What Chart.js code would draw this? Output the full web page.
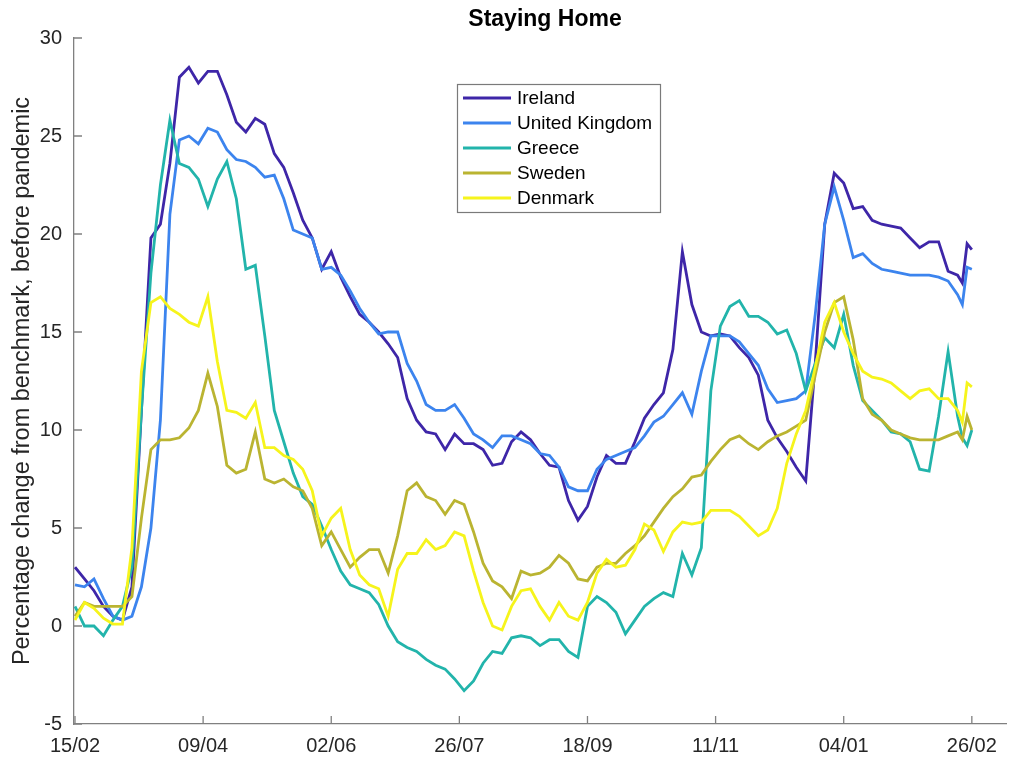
<!DOCTYPE html>
<html><head><meta charset="utf-8">
<script src="https://cdn.jsdelivr.net/npm/chart.js@4.4.1/dist/chart.umd.min.js"></script>
<style>html,body{margin:0;padding:0;background:#fff;}canvas{display:block;}</style>
</head><body>
<canvas id="c" width="1013" height="759"></canvas>
<script>
// Days since 15/02/2020
const days = [0,4,8,12,16,20,24,28,32,36,40,44,48,52,56,60,64,68,72,76,80,84,88,92,96,100,104,108,112,116,120,124,128,132,136,140,144,148,152,156,160,164,168,172,176,180,184,188,192,196,200,204,208,212,216,220,224,228,232,236,240,244,248,252,256,260,264,268,272,276,280,284,288,292,296,300,304,308,312,316,320,324,328,332,336,340,344,348,352,356,360,364,368,372,374,376,378];
const tickDays = [0,54,108,162,216,270,324,378];
const tickLabels = ['15/02','09/04','02/06','26/07','18/09','11/11','04/01','26/02'];
const yTicks = [-5,0,5,10,15,20,25,30];
const countries = ['Ireland','United Kingdom','Greece','Sweden','Denmark'];
const colors = ['#3E26A8','#3C84EE','#22B4AB','#BAB431','#F6F41C'];
const chartTitle = 'Staying Home';
const yTitle = 'Percentage change from benchmark, before pandemic';

const ireland = [3.0,2.4,1.8,1.0,0.5,0.3,2.0,11.0,19.8,20.5,23.6,28.0,28.5,27.7,28.3,28.3,27.1,25.7,25.2,25.9,25.6,24.1,23.4,22.1,20.7,19.8,18.2,19.1,17.8,16.8,15.9,15.5,15.0,14.4,13.7,11.6,10.5,9.9,9.8,9.0,9.8,9.3,9.3,9.0,8.2,8.3,9.4,9.9,9.5,8.8,8.2,8.1,6.4,5.4,6.1,7.6,8.7,8.3,8.3,9.4,10.6,11.3,11.9,14.1,19.1,16.4,15.0,14.8,14.9,14.8,14.2,13.7,12.8,10.5,9.6,8.9,8.1,7.4,13.4,20.5,23.1,22.6,21.3,21.4,20.7,20.5,20.4,20.3,19.8,19.3,19.6,19.6,18.1,17.9,17.5,19.5,19.2];
const uk = [2.1,2.0,2.4,1.4,0.5,0.3,0.5,2.0,5.0,10.5,21.0,24.8,25.0,24.6,25.4,25.2,24.3,23.8,23.7,23.4,22.9,23.0,21.8,20.2,20.0,19.8,18.2,18.3,17.9,17.1,16.2,15.5,14.9,15.0,15.0,13.4,12.5,11.3,11.0,11.0,11.3,10.6,9.8,9.5,9.1,9.7,9.7,9.5,9.3,8.8,8.7,8.1,7.1,6.9,6.9,8.0,8.5,8.7,8.9,9.1,9.7,10.4,10.7,11.3,11.9,10.8,13.0,14.8,14.8,14.8,14.5,13.9,13.3,12.1,11.4,11.5,11.6,12.0,15.9,20.5,22.4,20.7,18.8,19.0,18.5,18.2,18.1,18.0,17.9,17.9,17.9,17.8,17.6,16.9,16.4,18.3,18.2];
const greece = [1.0,0.0,0.0,-0.5,0.3,1.0,3.0,11.0,18.0,22.5,25.8,23.6,23.4,22.8,21.4,22.8,23.7,21.8,18.2,18.4,14.8,11.0,9.4,7.8,6.6,6.2,5.1,3.9,2.8,2.1,1.9,1.7,1.1,0.0,-0.8,-1.1,-1.3,-1.7,-2.0,-2.2,-2.7,-3.3,-2.8,-1.9,-1.3,-1.4,-0.6,-0.5,-0.6,-1.0,-0.7,-0.7,-1.3,-1.6,1.0,1.5,1.2,0.7,-0.4,0.3,1.0,1.4,1.7,1.5,3.7,2.6,4.0,12.0,15.3,16.3,16.6,15.8,15.8,15.5,14.9,15.1,13.9,12.0,13.4,14.7,14.2,15.9,13.3,11.5,11.0,10.5,9.9,9.8,9.4,8.0,7.9,10.7,14.0,10.7,9.6,9.2,10.0];
const sweden = [0.5,1.2,1.0,1.0,1.0,1.0,1.5,5.5,9.0,9.5,9.5,9.6,10.1,11.0,12.9,11.2,8.2,7.8,8.0,9.9,7.5,7.3,7.5,7.1,6.9,6.0,4.1,4.8,3.9,3.0,3.5,3.9,3.9,2.7,4.6,6.9,7.3,6.6,6.4,5.7,6.4,6.2,4.8,3.2,2.3,2.0,1.4,2.8,2.6,2.7,3.0,3.6,3.2,2.4,2.3,3.0,3.2,3.2,3.7,4.1,4.6,5.3,6.0,6.6,7.0,7.6,7.7,8.4,9.0,9.5,9.7,9.3,9.0,9.4,9.7,9.9,10.2,10.5,12.8,15.0,16.5,16.8,14.6,11.6,10.8,10.5,10.0,9.8,9.6,9.5,9.5,9.5,9.7,9.9,9.5,10.7,10.0];
const denmark = [0.3,1.2,0.9,0.4,0.1,0.1,4.0,13.0,16.5,16.8,16.2,15.9,15.5,15.3,16.8,13.5,11.0,10.9,10.6,11.4,9.1,9.1,8.7,8.5,8.0,6.9,4.6,5.5,6.0,3.9,2.6,2.1,1.9,0.5,2.9,3.7,3.7,4.4,3.9,4.1,4.8,4.6,2.8,1.2,0.0,-0.2,1.0,1.8,1.9,1.0,0.3,1.2,0.5,0.3,1.2,2.7,3.4,3.0,3.1,3.9,5.2,4.9,3.8,4.8,5.3,5.2,5.3,5.9,5.9,5.9,5.6,5.1,4.6,4.9,6.0,8.3,9.8,11.0,13.2,15.5,16.5,15.0,13.9,13.0,12.7,12.6,12.4,12.0,11.6,12.0,12.1,11.6,11.6,11.0,10.4,12.4,12.2];

const seriesValues = [ireland, uk, greece, sweden, denmark];
const FONT = "'Liberation Sans', Arial, Helvetica, sans-serif";
const TEXT = '#262626';
const AXIS = '#808080';

const datasets = countries.map((name, k) => ({
  label: name,
  data: days.map((d, i) => ({x: d, y: seriesValues[k][i]})),
  borderColor: colors[k],
  backgroundColor: colors[k],
  borderWidth: 2.8,
  pointRadius: 0,
  tension: 0,
  fill: false,
  order: countries.length - k
}));

const inwardTicks = {
  id: 'inwardTicks',
  beforeDatasetsDraw(chart) {
    const {ctx, chartArea: a, scales: {x, y}} = chart;
    ctx.save();
    ctx.strokeStyle = AXIS;
    ctx.lineWidth = 1.3;
    ctx.beginPath();
    x.ticks.forEach(t => { const px = x.getPixelForValue(t.value); ctx.moveTo(px, a.bottom); ctx.lineTo(px, a.bottom - 8); });
    y.ticks.forEach(t => { const py = y.getPixelForValue(t.value); ctx.moveTo(a.left, py); ctx.lineTo(a.left + 8, py); });
    ctx.stroke();
    ctx.restore();
  }
};

const titleAndLegend = {
  id: 'titleAndLegend',
  afterDraw(chart) {
    const {ctx, chartArea: a} = chart;
    ctx.save();
    // title
    ctx.fillStyle = '#000';
    ctx.font = 'bold 23px ' + FONT;
    ctx.textAlign = 'center';
    ctx.textBaseline = 'middle';
    ctx.fillText(chartTitle, (a.left + a.right) / 2 + 5, 20);
    // legend box
    const bx = 457, by = 84, bw = 203, bh = 128;
    ctx.fillStyle = '#fff';
    ctx.fillRect(bx, by, bw, bh);
    ctx.strokeStyle = '#7a7a7a';
    ctx.lineWidth = 1.2;
    ctx.strokeRect(bx + 0.5, by + 0.5, bw, bh);
    ctx.font = '19px ' + FONT;
    ctx.textAlign = 'left';
    chart.data.datasets.forEach((ds, i) => {
      const yy = by + 14 + i * 25;
      ctx.strokeStyle = ds.borderColor;
      ctx.lineWidth = 2.8;
      ctx.beginPath();
      ctx.moveTo(bx + 6, yy);
      ctx.lineTo(bx + 54, yy);
      ctx.stroke();
      ctx.fillStyle = '#000';
      ctx.fillText(ds.label, bx + 60, yy + 1);
    });
    ctx.restore();
  }
};

new Chart(document.getElementById('c'), {
  type: 'line',
  data: {datasets},
  plugins: [inwardTicks, titleAndLegend],
  options: {
    responsive: false,
    animation: false,
    devicePixelRatio: 1,
    layout: {padding: {left: 0, right: 7, top: 38, bottom: 0}},
    plugins: {
      legend: {display: false},
      tooltip: {enabled: false},
      title: {display: false}
    },
    scales: {
      x: {
        type: 'linear', min: -0.42, max: 392.4,
        afterBuildTicks: s => { s.ticks = tickDays.map(v => ({value: v})); },
        ticks: {
          autoSkip: false, maxRotation: 0, padding: 10, color: TEXT,
          font: {family: FONT, size: 20},
          callback: v => { const i = tickDays.indexOf(v); return i >= 0 ? tickLabels[i] : ''; }
        },
        grid: {drawOnChartArea: false, drawTicks: false},
        border: {display: true, color: AXIS, width: 1.3},
        afterFit: s => { s.height = 35; }
      },
      y: {
        min: -5, max: 30,
        afterBuildTicks: s => { s.ticks = yTicks.map(v => ({value: v})); },
        ticks: {padding: 12, color: TEXT, font: {family: FONT, size: 20}},
        grid: {drawOnChartArea: false, drawTicks: false},
        border: {display: true, color: AXIS, width: 1.3},
        title: {display: true, text: yTitle,
          color: TEXT, font: {family: FONT, size: 23.5}, padding: {top: 8, bottom: 0}},
        afterFit: s => { s.width = 74; }
      }
    }
  }
});
</script>
</body></html>
